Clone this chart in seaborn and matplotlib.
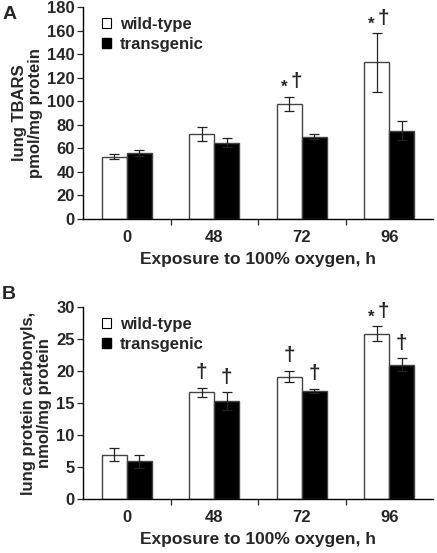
import pandas as pd
import matplotlib.pyplot as plt
import seaborn as sns
import numpy as np
from matplotlib.patches import Patch

hours = ['0', '48', '72', '96']
groups = ['wild-type', 'transgenic']

# panel A: lung TBARS
tbars_wt = [53, 72, 98, 133]
tbars_wt_err = [2, 6, 6, 25]
tbars_tg = [56, 65, 70, 75]
tbars_tg_err = [2.5, 4, 2.3, 8]
tbars_marks_wt = ['', '', '*\u2020', '*\u2020']
tbars_marks_tg = ['', '', '', '']

# panel B: protein carbonyls
carb_wt = [6.9, 16.7, 19.1, 25.8]
carb_wt_err = [1.0, 0.7, 0.9, 1.2]
carb_tg = [5.9, 15.3, 16.9, 21.0]
carb_tg_err = [1.0, 1.35, 0.35, 1.0]
carb_marks_wt = ['', '\u2020', '\u2020', '*\u2020']
carb_marks_tg = ['', '\u2020', '\u2020', '\u2020']

sns.set_style('white')
plt.rcParams['font.family'] = ['Liberation Sans', 'DejaVu Sans']
plt.rcParams['font.weight'] = 'bold'


def panel(ax, wt, wt_err, tg, tg_err, marks_wt, marks_tg, ymax, ystep, ylabel):
    df = pd.DataFrame({
        'hour': hours * 2,
        'group': [groups[0]] * 4 + [groups[1]] * 4,
        'value': wt + tg,
    })
    sns.barplot(data=df, x='hour', y='value', hue='group', order=hours, hue_order=groups,
                palette={'wild-type': 'white', 'transgenic': 'black'}, width=0.57,
                errorbar=None, edgecolor='#444444', linewidth=1.0, legend=False, ax=ax)
    # error bars + significance marks from bar positions
    bars = [p for p in ax.patches if p.get_height() > 0]
    bars = sorted(bars, key=lambda p: p.get_x())
    vals = []
    for i in range(4):
        vals.append((wt[i], wt_err[i], marks_wt[i]))
        vals.append((tg[i], tg_err[i], marks_tg[i]))
    for p, (v, e, m) in zip(bars, vals):
        cx = p.get_x() + p.get_width() / 2
        ax.errorbar(cx, v, yerr=e, color='#222222', capsize=3.5, elinewidth=0.9,
                    capthick=0.9, lw=0)
        if '*' in m:
            ax.annotate('*', (cx, v + e), xytext=(-4, 1), textcoords='offset points',
                        ha='center', va='bottom', fontsize=12, fontweight='bold')
            ax.annotate('\u2020', (cx, v + e), xytext=(5, 4), textcoords='offset points',
                        ha='center', va='bottom', fontsize=15, fontweight='bold')
        elif m:
            ax.annotate(m, (cx, v + e), xytext=(0, 4), textcoords='offset points',
                        ha='center', va='bottom', fontsize=15, fontweight='bold')
    ax.set_xlim(-0.5, 3.5)
    ax.set_ylim(0, ymax)
    ax.set_yticks(np.arange(0, ymax + 1, ystep))
    ax.set_xticks([0.5, 1.5, 2.5], minor=True)
    ax.tick_params(axis='x', which='major', length=0, labelsize=12, pad=8)
    ax.tick_params(axis='x', which='minor', length=4, width=0.9, direction='out', bottom=True)
    ax.tick_params(axis='y', length=4, width=0.9, direction='out', left=True, labelsize=12, pad=2)
    for lab in ax.get_xticklabels() + ax.get_yticklabels():
        lab.set_fontweight('bold')
    sns.despine(ax=ax)
    for s in ['left', 'bottom']:
        ax.spines[s].set_color('black')
        ax.spines[s].set_linewidth(1.0)
    ax.set_xlabel('Exposure to 100% oxygen, h', fontsize=12.5, fontweight='bold', labelpad=5)
    ax.set_ylabel(ylabel, fontsize=12, fontweight='bold', labelpad=3, linespacing=1.05)
    handles = [Patch(facecolor='white', edgecolor='black', linewidth=0.8),
               Patch(facecolor='black', edgecolor='black')]
    ax.legend(handles, groups, loc='upper left', bbox_to_anchor=(0.012, 1.025), frameon=False,
              handlelength=0.5, handleheight=0.5, handletextpad=0.55, labelspacing=0.3,
              prop={'weight': 'bold', 'size': 12})


fig = plt.figure(figsize=(4.37, 5.53), dpi=100)
axA = fig.add_axes([0.19, 0.604, 0.801, 0.383])
axB = fig.add_axes([0.19, 0.0976, 0.801, 0.3474])

panel(axA, tbars_wt, tbars_wt_err, tbars_tg, tbars_tg_err, tbars_marks_wt, tbars_marks_tg,
      180, 20, 'lung TBARS\npmol/mg protein')
panel(axB, carb_wt, carb_wt_err, carb_tg, carb_tg_err, carb_marks_wt, carb_marks_tg,
      30, 5, 'lung protein carbonyls,\nnmol/mg protein')

fig.text(0.005, 0.99, 'A', fontsize=14, fontweight='bold', va='top')
fig.text(0.005, 0.482, 'B', fontsize=14, fontweight='bold', va='top')

fig.savefig('out.png', dpi=100)
